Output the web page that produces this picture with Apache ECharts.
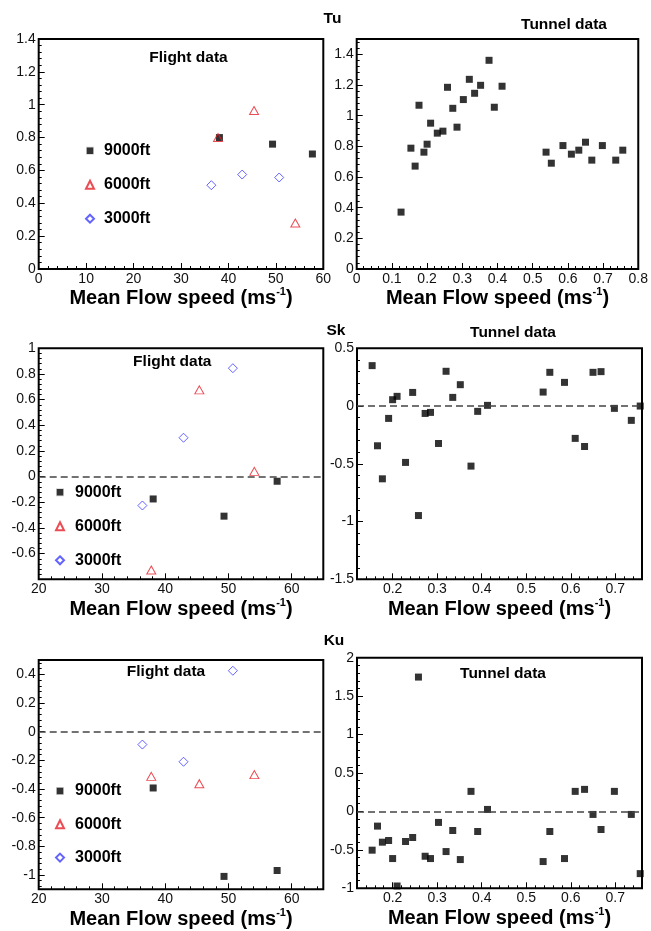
<!DOCTYPE html>
<html><head><meta charset="utf-8">
<script src="https://cdn.jsdelivr.net/npm/echarts@6/dist/echarts.min.js"></script>
<style>html,body{margin:0;padding:0;background:#fff}#c{width:651px;height:931px}</style>
</head><body><div id="c"></div><script>
// ---------------- DATA ----------------
const altitudes = ['9000ft', '6000ft', '3000ft'];
const flightSpeed9000 = [38.1, 49.3, 57.7];
const flightSpeed6000 = [37.8, 45.4, 54.1];
const flightSpeed3000 = [36.4, 42.9, 50.7];
const tuFlight9000 = [0.80, 0.76, 0.70];
const tuFlight6000 = [0.80, 0.965, 0.28];
const tuFlight3000 = [0.51, 0.575, 0.557];
const skFlight9000 = [-0.174, -0.308, -0.036];
const skFlight6000 = [-0.728, 0.676, 0.041];
const skFlight3000 = [-0.225, 0.303, 0.845];
const kuFlight9000 = [-0.393, -1.01, -0.969];
const kuFlight6000 = [-0.312, -0.363, -0.30];
const kuFlight3000 = [-0.09, -0.21, 0.425];

const tunnelSpeed = [0.126, 0.154, 0.166, 0.177, 0.191, 0.200, 0.210, 0.229, 0.245, 0.258,
  0.273, 0.285, 0.303, 0.320, 0.335, 0.352, 0.376, 0.391, 0.413, 0.538,
  0.553, 0.586, 0.610, 0.631, 0.650, 0.668, 0.698, 0.736, 0.756];
const tuTunnel = [0.371, 0.788, 0.671, 1.068, 0.762, 0.814, 0.951, 0.886, 0.899, 1.185,
  1.048, 0.925, 1.105, 1.237, 1.146, 1.198, 1.361, 1.055, 1.192, 0.762,
  0.690, 0.805, 0.749, 0.775, 0.827, 0.710, 0.805, 0.710, 0.775];
const skTunnel = [null, 0.350, -0.344, -0.630, -0.107, 0.055, 0.084, -0.488, 0.118, -0.948,
  -0.064, -0.055, -0.324, 0.301, 0.075, 0.185, -0.520, -0.046, 0.006, 0.121,
  0.292, 0.205, -0.280, -0.350, 0.292, 0.298, -0.020, -0.124, 0.0];
const kuTunnel = [null, -0.504, -0.191, -0.400, -0.378, -0.613, -0.970, -0.391, -0.339, 1.748,
  -0.583, -0.613, -0.143, -0.522, -0.248, -0.626, 0.261, -0.261, 0.026, -0.652,
  -0.261, -0.613, 0.261, 0.287, -0.039, -0.235, 0.261, -0.039, -0.809];

const xTitle = '{t|Mean Flow speed (ms}{s|-1}{t|)}';
const panelTags = ['Tu', 'Sk', 'Ku'];
const flightLabel = 'Flight data';
const tunnelLabel = 'Tunnel data';

// ---------------- STYLE / LAYOUT ----------------
const F = "'Liberation Sans', Arial, Helvetica, sans-serif";
const RED = '#e6202a', BLUE = '#3c3cff';

function pts(xs, ys) {
  return xs.map((x, i) => [x, ys[i]]).filter(p => p[1] !== null && p[1] !== undefined);
}

const grids = [
  {left: 38.7, top: 39, width: 284.6, height: 230},
  {left: 356.7, top: 39, width: 285.6, height: 230},
  {left: 38.7, top: 348.3, width: 284.6, height: 231},
  {left: 357, top: 348.3, width: 285, height: 231},
  {left: 38.7, top: 660, width: 284.6, height: 229.3},
  {left: 357, top: 657.7, width: 285, height: 230.6}
].map(g => Object.assign({show: true, borderColor: '#000', borderWidth: 2, backgroundColor: 'transparent', containLabel: false}, g));

function axis(gi, range, extra, isX, gap) {
  extra = extra || {};
  const labelBase = {fontSize: 14, color: '#111', fontFamily: F, margin: 3};
  const o = {
    type: 'value', gridIndex: gi, min: range[0], max: range[1],
    axisLine: {show: false, onZero: false},
    axisTick: {show: true, inside: true, length: 6, lineStyle: {color: '#000', width: 1}},
    minorTick: {show: true, splitNumber: 5, length: 3, lineStyle: {color: '#000', width: 1}},
    splitLine: {show: false},
    axisLabel: Object.assign({}, labelBase, extra.axisLabel || {})
  };
  if (extra.interval !== undefined) o.interval = extra.interval;
  if (extra.splitNumber !== undefined) o.splitNumber = extra.splitNumber;
  if (isX) {
    o.name = xTitle;
    o.nameLocation = 'middle';
    o.nameGap = gap;
    o.nameTextStyle = {rich: {
      t: {fontSize: 20, fontWeight: 'bold', fontFamily: F, color: '#000', lineHeight: 24},
      s: {fontSize: 11, fontWeight: 'bold', fontFamily: F, color: '#000', lineHeight: 14, verticalAlign: 'top'}
    }};
  }
  return o;
}

const xAxes = [
  axis(0, [0, 60], {interval: 10}, true, 17),
  axis(1, [0, 0.8], {interval: 0.1}, true, 17),
  axis(2, [20, 65], {interval: 10, axisLabel: {showMaxLabel: false}}, true, 13),
  axis(3, [0.12, 0.76], {splitNumber: 6, axisLabel: {showMinLabel: false, showMaxLabel: false}}, true, 13),
  axis(4, [20, 65], {interval: 10, axisLabel: {showMaxLabel: false}}, true, 17),
  axis(5, [0.12, 0.76], {splitNumber: 6, axisLabel: {showMinLabel: false, showMaxLabel: false}}, true, 17)
];
const yAxes = [
  axis(0, [0, 1.4], {interval: 0.2}),
  axis(1, [0, 1.5], {interval: 0.2, axisLabel: {showMaxLabel: false}}),
  axis(2, [-0.8, 1], {interval: 0.2, axisLabel: {showMinLabel: false}}),
  axis(3, [-1.5, 0.5], {interval: 0.5}),
  axis(4, [-1.1, 0.5], {splitNumber: 8, axisLabel: {showMinLabel: false, showMaxLabel: false}}),
  axis(5, [-1, 2], {interval: 0.5})
];

const zeroLine = {
  silent: true, symbol: 'none', label: {show: false},
  lineStyle: {color: '#444', type: [7, 4], width: 1.5},
  data: [{yAxis: 0}]
};

function flightSeries(gi, y9, y6, y3, withZero) {
  const s = [
    {type: 'scatter', name: altitudes[0], xAxisIndex: gi, yAxisIndex: gi,
     data: pts(flightSpeed9000, y9), symbol: 'rect', symbolSize: 7,
     itemStyle: {color: '#000'}},
    {type: 'scatter', name: altitudes[1], xAxisIndex: gi, yAxisIndex: gi,
     data: pts(flightSpeed6000, y6), symbol: 'triangle', symbolSize: [9, 8],
     itemStyle: {color: 'rgba(255,255,255,0)', borderColor: RED, borderWidth: 1}},
    {type: 'scatter', name: altitudes[2], xAxisIndex: gi, yAxisIndex: gi,
     data: pts(flightSpeed3000, y3), symbol: 'diamond', symbolSize: [9, 9],
     itemStyle: {color: 'rgba(255,255,255,0)', borderColor: BLUE, borderWidth: 1}}
  ];
  if (withZero) s[0].markLine = zeroLine;
  return s;
}
function tunnelSeries(gi, ys, withZero) {
  const s = {type: 'scatter', name: 'Tunnel', xAxisIndex: gi, yAxisIndex: gi,
    data: pts(tunnelSpeed, ys), symbol: 'rect', symbolSize: 7, itemStyle: {color: '#000'}};
  if (withZero) s.markLine = zeroLine;
  return s;
}

const series = [].concat(
  flightSeries(0, tuFlight9000, tuFlight6000, tuFlight3000, false),
  [tunnelSeries(1, tuTunnel, false)],
  flightSeries(2, skFlight9000, skFlight6000, skFlight3000, true),
  [tunnelSeries(3, skTunnel, true)],
  flightSeries(4, kuFlight9000, kuFlight6000, kuFlight3000, true),
  [tunnelSeries(5, kuTunnel, true)]
).map(s => Object.assign(s, {emphasis: {disabled: true}}));

function legend(left, top, padLeft, gap) {
  return {
    data: [
      {name: altitudes[0], itemStyle: {borderColor: '#fff', borderWidth: 1.5}},
      {name: altitudes[1]},
      {name: altitudes[2]}
    ],
    orient: 'vertical', left: left, top: top, padding: 0,
    itemWidth: 8, itemHeight: 8, itemGap: gap, selectedMode: false,
    textStyle: {fontSize: 16, fontWeight: 'bold', fontFamily: F, color: '#000', lineHeight: 16,
                padding: [0, 0, 0, padLeft]}
  };
}

function label(text, x, y) {
  return {type: 'text', x: x, y: y, silent: true,
    style: {text: text, fontSize: 15.5, fontWeight: 'bold', fontFamily: F, fill: '#000',
            align: 'center', verticalAlign: 'middle'}};
}

const option = {
  animation: false,
  backgroundColor: '#fff',
  grid: grids,
  xAxis: xAxes,
  yAxis: yAxes,
  legend: [legend(85, 142.7, 5, 18), legend(55, 484.3, 6, 18), legend(55, 783, 6, 17.3)],
  series: series,
  graphic: [
    label(panelTags[0], 332.5, 19),
    label(tunnelLabel, 564, 25),
    label(flightLabel, 188.5, 58),
    label(panelTags[1], 336, 331),
    label(tunnelLabel, 513, 333),
    label(flightLabel, 172.3, 361.7),
    label(panelTags[2], 334, 640.7),
    label(tunnelLabel, 503, 674),
    label(flightLabel, 166, 671.7)
  ]
};

const chart = echarts.init(document.getElementById('c'), null, {renderer: 'canvas'});
chart.setOption(option);
</script></body></html>
